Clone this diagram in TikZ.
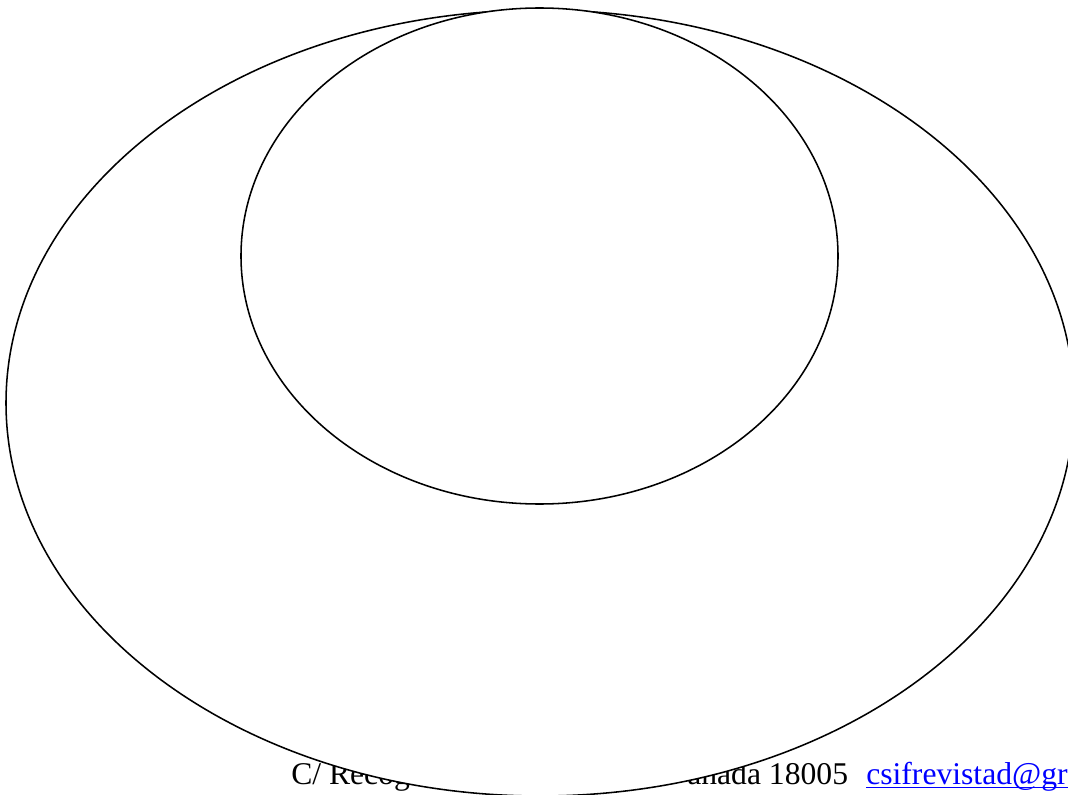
\documentclass[tikz,border=0pt]{standalone}
\usepackage{fontspec}
\setmainfont{Liberation Serif}
\begin{document}
\begin{tikzpicture}[x=0.025cm, y=-0.025cm, every node/.style={font=\fontsize{22.5}{26}\selectfont, inner sep=0pt, anchor=base west}]
  \useasboundingbox (0,0) rectangle (1068,795);
  \node (street) at (291,784) {C/ Recog};
  \node (city) at (687,784) {anada 18005};
  \node[text=blue] (mail) at (866,784) {csifrevistad@gr};
  \draw[blue, line width=1pt] ([yshift=-2.4pt]mail.base west) -- ([yshift=-2.4pt]mail.base east);
  \draw[line width=1.1pt, fill=white] (540,403) ellipse [x radius=534, y radius=393];
  \draw[line width=1.1pt, fill=white] (539.5,256) ellipse [x radius=298.5, y radius=248];
\end{tikzpicture}
\end{document}
